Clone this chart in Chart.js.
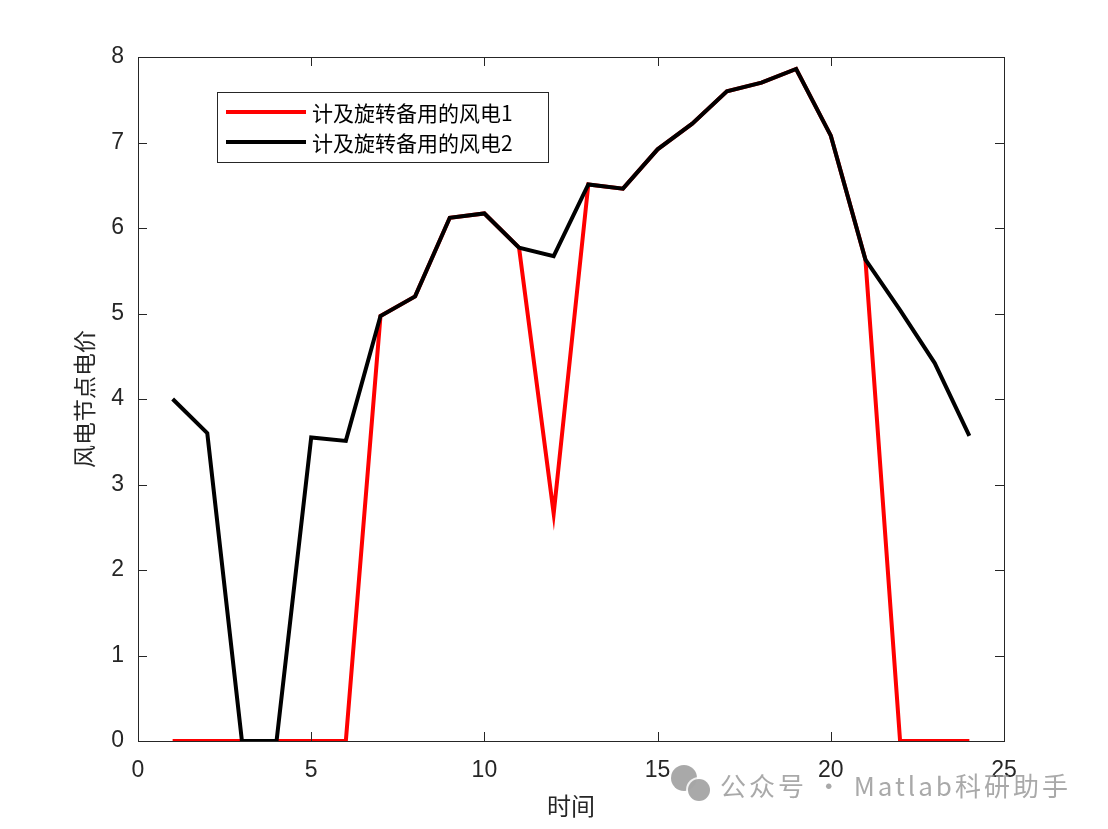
<!DOCTYPE html>
<html>
<head>
<meta charset="utf-8">
<script src="https://cdn.jsdelivr.net/npm/chart.js@4/dist/chart.umd.min.js"></script>
<style>
  html, body { margin: 0; padding: 0; background: #fff; }
  #wrap { width: 1108px; height: 829px; }
</style>
</head>
<body>
<div id="wrap"><canvas id="priceChart"></canvas></div>
<script>
// hours 1..24
const hours = [1,2,3,4,5,6,7,8,9,10,11,12,13,14,15,16,17,18,19,20,21,22,23,24];
const wind1 = [0,0,0,0,0,0,4.97,5.20,6.12,6.17,5.77,2.66,6.51,6.46,6.92,7.22,7.60,7.70,7.86,7.08,5.63,0,0,0];
const wind2 = [4.00,3.60,0,0,3.55,3.51,4.97,5.20,6.12,6.17,5.77,5.67,6.51,6.46,6.92,7.22,7.60,7.70,7.86,7.08,5.63,5.04,4.42,3.57];
const xTicks = [0,5,10,15,20,25];
const yTicks = [0,1,2,3,4,5,6,7,8];
const seriesNames = ['计及旋转备用的风电1', '计及旋转备用的风电2'];

const axisColor = '#262626';
const tickFont = { family: '"Liberation Sans", Arial, sans-serif', size: 23 };
const cjkFont = '"Noto Sans CJK SC", "Liberation Sans", sans-serif';

// MATLAB-like box with inward ticks on all sides, legend and watermark
const boxPlugin = {
    id: 'boxTicks',
    afterDraw(chart) {
        const ctx = chart.ctx;
        const a = chart.chartArea;
        const xs = chart.scales.x, ys = chart.scales.y;
        ctx.save();
        ctx.strokeStyle = axisColor;
        ctx.lineWidth = 1;
        ctx.strokeRect(a.left + 0.5, a.top + 0.5, a.right - a.left, a.bottom - a.top);
        ctx.beginPath();
        xTicks.forEach(v => {
            const px = Math.round(xs.getPixelForValue(v)) + 0.5;
            ctx.moveTo(px, a.bottom); ctx.lineTo(px, a.bottom - 9);
            ctx.moveTo(px, a.top); ctx.lineTo(px, a.top + 9);
        });
        yTicks.forEach(v => {
            const py = Math.round(ys.getPixelForValue(v)) + 0.5;
            ctx.moveTo(a.left, py); ctx.lineTo(a.left + 9, py);
            ctx.moveTo(a.right, py); ctx.lineTo(a.right - 9, py);
        });
        ctx.stroke();

        // legend box
        const lx = 217, ly = 92, lw = 331, lh = 70;
        ctx.fillStyle = '#fff';
        ctx.fillRect(lx, ly, lw, lh);
        ctx.strokeStyle = '#262626';
        ctx.strokeRect(lx + 0.5, ly + 0.5, lw, lh);
        chart.data.datasets.forEach((ds, i) => {
            const yy = ly + 20 + i * 30;
            ctx.strokeStyle = ds.borderColor;
            ctx.lineWidth = 4;
            ctx.beginPath();
            ctx.moveTo(lx + 9, yy); ctx.lineTo(lx + 89, yy);
            ctx.stroke();
            ctx.fillStyle = '#000';
            ctx.font = '21px ' + cjkFont;
            ctx.textBaseline = 'middle';
            ctx.textAlign = 'left';
            ctx.fillText(ds.label, lx + 95, yy + 1);
        });

        // watermark
        ctx.globalAlpha = 0.85;
        ctx.fillStyle = '#9a9a9a';
        ctx.beginPath(); ctx.arc(684, 778, 13, 0, Math.PI * 2); ctx.fill();
        ctx.fillStyle = '#ffffff';
        ctx.beginPath(); ctx.arc(699, 790, 13, 0, Math.PI * 2); ctx.fill();
        ctx.fillStyle = '#9a9a9a';
        ctx.beginPath(); ctx.arc(699, 790, 11, 0, Math.PI * 2); ctx.fill();
        ctx.font = '26px ' + cjkFont;
        ctx.textBaseline = 'middle';
        ctx.textAlign = 'left';
        ctx.letterSpacing = '3px';
        ctx.fillText('公众号 · Matlab科研助手', 720, 786);
        ctx.restore();
    }
};

new Chart(document.getElementById('priceChart'), {
    type: 'line',
    data: {
        datasets: [
            {
                label: seriesNames[0],
                data: hours.map((h, i) => ({ x: h, y: wind1[i] })),
                borderColor: '#ff0000',
                borderWidth: 4,
                pointRadius: 0,
                tension: 0,
                order: 1
            },
            {
                label: seriesNames[1],
                data: hours.map((h, i) => ({ x: h, y: wind2[i] })),
                borderColor: '#000000',
                borderWidth: 4,
                pointRadius: 0,
                tension: 0,
                order: 0
            }
        ]
    },
    options: {
        responsive: true,
        maintainAspectRatio: false,
        animation: false,
        layout: { padding: { left: 0, top: 57, right: 104, bottom: 0 } },
        plugins: {
            legend: { display: false },
            tooltip: { enabled: false }
        },
        scales: {
            x: {
                type: 'linear',
                min: 0, max: 25,
                afterBuildTicks: s => { s.ticks = xTicks.map(v => ({ value: v })); },
                afterFit: s => { s.height = 88; },
                grid: { display: false, drawTicks: false },
                border: { display: false },
                ticks: { color: axisColor, font: tickFont, padding: 16, maxRotation: 0 },
                title: {
                    display: true, text: '时间', color: axisColor,
                    font: { family: cjkFont, size: 24 }, padding: { top: 0, bottom: 9 }
                }
            },
            y: {
                min: 0, max: 8,
                afterBuildTicks: s => { s.ticks = yTicks.map(v => ({ value: v })); },
                afterFit: s => { s.width = 138; },
                grid: { display: false, drawTicks: false },
                border: { display: false },
                ticks: { color: axisColor, font: tickFont, padding: 14 },
                title: {
                    display: true, text: '风电节点电价', color: axisColor,
                    font: { family: cjkFont, size: 23 }, padding: { top: 70, bottom: 0 }
                }
            }
        }
    },
    plugins: [boxPlugin]
});
</script>
</body>
</html>
